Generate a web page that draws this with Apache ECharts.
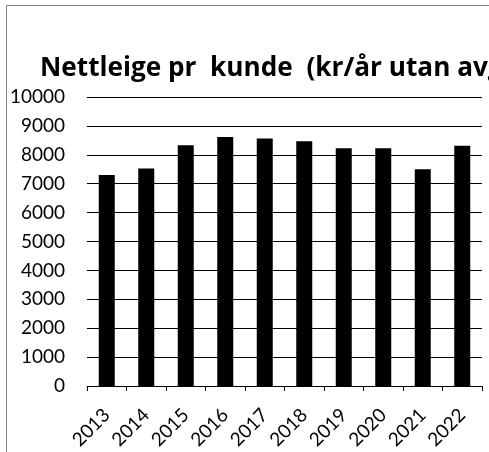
<!DOCTYPE html>
<html>
<head>
<meta charset="utf-8">
<script src="https://cdn.jsdelivr.net/npm/echarts@6/dist/echarts.min.js"></script>
<style>
html,body{margin:0;padding:0;background:#fff;}
#chart{width:489px;height:452px;}
</style>
</head>
<body>
<div id="chart"></div>
<script>
var years = ['2013', '2014', '2015', '2016', '2017', '2018', '2019', '2020', '2021', '2022'];
var nettleige = [7300, 7530, 8330, 8620, 8565, 8470, 8230, 8230, 7500, 8310];
var titleText = 'Nettleige pr  kunde  (kr/år utan avgifter)';

var font = 'Lato, "Open Sans", sans-serif';
var myChart = echarts.init(document.getElementById('chart'));

myChart.setOption({
    backgroundColor: '#fff',
    animation: false,
    title: {
        text: titleText,
        left: 40,
        top: 56,
        padding: 0,
        textStyle: { fontFamily: '"Open Sans", sans-serif', fontSize: 26.2, fontWeight: 'bold', color: '#000' }
    },
    graphic: [{
        type: 'rect',
        shape: { x: 6.5, y: 5.5, width: 700, height: 700 },
        style: { fill: 'none', stroke: '#808080', lineWidth: 1 },
        silent: true
    }],
    grid: { left: 87, right: 7, top: 97, bottom: 65 },
    xAxis: {
        type: 'category',
        data: years,
        axisLine: { lineStyle: { color: '#000', width: 1 } },
        axisTick: { show: true, length: 5, lineStyle: { color: '#000' } },
        axisLabel: { interval: 0, rotate: 45, margin: 26, fontFamily: font, fontSize: 19, color: '#000' }
    },
    yAxis: {
        type: 'value',
        min: 0,
        max: 10000,
        interval: 1000,
        axisLine: { show: false },
        axisTick: { show: false },
        splitLine: { lineStyle: { color: '#000', width: 1 } },
        axisLabel: {
            margin: 22, fontFamily: font, fontSize: 19, color: '#000',
            formatter: function (v) { return String(v); }
        }
    },
    series: [{
        type: 'bar',
        data: nettleige,
        barWidth: 16,
        itemStyle: { color: '#000' }
    }]
});
</script>
</body>
</html>
